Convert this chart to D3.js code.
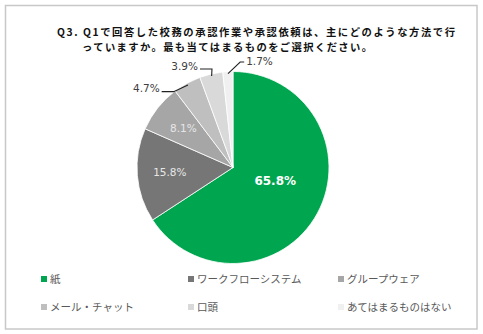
<!DOCTYPE html>
<html><head><meta charset="utf-8">
<script src="https://cdn.jsdelivr.net/npm/d3@7"></script>
<style>body{margin:0;background:#fff}svg{display:block}</style>
</head><body>
<svg id="c" width="483" height="334"></svg>
<script>
const titleLines = ["Q3. Q1で回答した校務の承認作業や承認依頼は、主にどのような方法で行", "っていますか。最も当てはまるものをご選択ください。"];
const categories = ["紙", "ワークフローシステム", "グループウェア", "メール・チャット", "口頭", "あてはまるものはない"];
const values = [65.8, 15.8, 8.1, 4.7, 3.9, 1.7];
const colors = ["#00a64f", "#767676", "#a6a6a6", "#bfbfbf", "#d9d9d9", "#f0f0f0"];

const svg = d3.select("#c");
svg.append("rect").attr("x",5.5).attr("y",5.5).attr("width",471.5).attr("height",323.5)
  .attr("fill","#fff").attr("stroke","#c8c8c8").attr("stroke-width",1.5);

const jp = "'Noto Sans CJK JP','Noto Sans',sans-serif";
const num = "Verdana,'DejaVu Sans',sans-serif";

const title = svg.append("text").attr("font-family",jp).attr("font-weight","bold")
  .attr("font-size",10.3).attr("fill","#111");
title.append("tspan").attr("x",57).attr("y",35.5)
  .attr("textLength",398).attr("lengthAdjust","spacing").text(titleLines[0]);
title.append("tspan").attr("x",82).attr("y",50.5)
  .attr("textLength",290).attr("lengthAdjust","spacing").text(titleLines[1]);

const cx = 233, cy = 167.5, r = 96;
const g = svg.append("g").attr("transform",`translate(${cx},${cy})`);
const data = categories.map((c,i)=>({cat:c, v:values[i], col:colors[i]}));
const pie = d3.pie().value(d=>d.v).sort(null);
const arcs = pie(data);
const arc = d3.arc().innerRadius(0).outerRadius(r);
g.selectAll("path").data(arcs).join("path").attr("d",arc)
  .attr("fill",d=>d.data.col).attr("stroke","#fff").attr("stroke-width",0.8);

const fmt = v => v.toFixed(1)+"%";
const insideIdx = arcs.filter(a=>a.data.v>=6);
const outside = arcs.filter(a=>a.data.v<6);
const mid = a => (a.startAngle+a.endAngle)/2;

// inside labels
insideIdx.forEach(a=>{
  const big = a.data.v>50;
  const rho = big ? 0.46*r : 0.66*r;
  const m = big ? mid(a) - 0.2 : mid(a);
  const x = rho*Math.sin(m), y = -rho*Math.cos(m);
  g.append("text").attr("x",x).attr("y",y).attr("dy","0.35em").attr("text-anchor","middle")
    .attr("font-family",num).attr("font-size",big?12:10.5).attr("font-weight",big?"bold":"normal")
    .attr("fill",big?"#fff":"#e6e6e6").text(fmt(a.data.v));
});

// outside labels: spread around the centre of the clustered span
const span0 = outside[0].startAngle, span1 = outside[outside.length-1].endAngle;
const centre = (span0+span1)/2;
const gap = 24*Math.PI/180;
const lr = 107;
outside.forEach((a,i)=>{
  const ang = centre + (i-(outside.length-1)/2)*gap;
  const px = lr*Math.sin(ang), py = -lr*Math.cos(ang);
  const left = Math.sin(ang) < 0;
  const m = mid(a);
  const ex = (r-2)*Math.sin(m), ey = -(r-2)*Math.cos(m);
  let pts;
  if(left){
    pts = [[px+1,py+3],[px+13,py+3],[ex,ey]];
  } else {
    pts = [[px+1,py+1],[px-3,py+1],[ex,ey]];
  }
  g.append("polyline").attr("points",pts.map(p=>p.join(",")).join(" "))
    .attr("fill","none").attr("stroke","#222").attr("stroke-width",1.1);
  g.append("text").attr("x",left?px-1:px+3).attr("y",py).attr("dy","0.35em")
    .attr("text-anchor",left?"end":"start").attr("font-family",num).attr("font-size",10.5)
    .attr("fill","#404040").text(fmt(a.data.v));
});

// legend
const colX = [41, 188, 338], rowY = [279, 307];
data.forEach((d,i)=>{
  const x = colX[i%3], y = rowY[Math.floor(i/3)];
  svg.append("rect").attr("x",x).attr("y",y-3).attr("width",6).attr("height",6).attr("fill",d.col);
  svg.append("text").attr("x",x+9).attr("y",y).attr("dy","0.36em").attr("font-family",jp)
    .attr("font-size",10.5).attr("fill","#595959").text(d.cat);
});
</script>
</body></html>
